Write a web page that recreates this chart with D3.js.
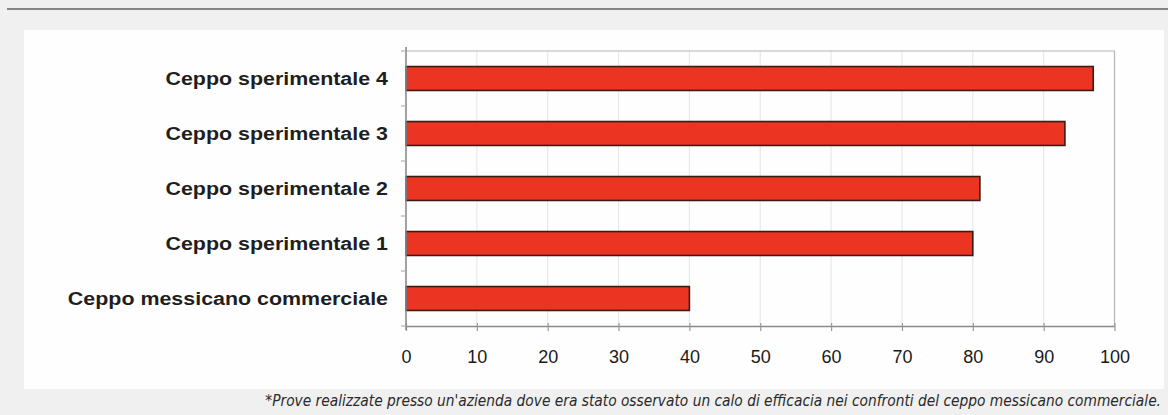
<!DOCTYPE html>
<html>
<head>
<meta charset="utf-8">
<script src="https://cdn.jsdelivr.net/npm/d3@7"></script>
<style>
  html, body { margin: 0; padding: 0; background: #f0f0f0; }
  svg { display: block; }
</style>
</head>
<body>
<svg id="chart" width="1168" height="415"></svg>
<script>
const categories = [
  "Ceppo sperimentale 4",
  "Ceppo sperimentale 3",
  "Ceppo sperimentale 2",
  "Ceppo sperimentale 1",
  "Ceppo messicano commerciale"
];
const values = [97, 93, 81, 80, 40];
const xTicks = [0, 10, 20, 30, 40, 50, 60, 70, 80, 90, 100];
const footnote = "*Prove realizzate presso un'azienda dove era stato osservato un calo di efficacia nei confronti del ceppo messicano commerciale.";

const svg = d3.select("#chart");
const W = 1168, H = 415;

svg.append("rect").attr("width", W).attr("height", H).attr("fill", "#f0f0f0");
// top rule
svg.append("rect").attr("x", 7).attr("y", 8).attr("width", W - 7).attr("height", 2).attr("fill", "#858585");
// white panel
svg.append("rect").attr("x", 24).attr("y", 30).attr("width", 1140).attr("height", 359).attr("fill", "#fefefe");

const plot = { left: 406, right: 1114.5, top: 51, bottom: 326 };

const x = d3.scaleLinear().domain([0, 100]).range([plot.left, plot.right]);
const y = d3.scaleBand().domain(categories).range([plot.top, plot.bottom]).paddingInner(0.565).paddingOuter(0.2825);

// gridlines
svg.append("g").selectAll("line").data(xTicks.filter(d => d > 0 && d < 100)).join("line")
  .attr("x1", d => x(d)).attr("x2", d => x(d))
  .attr("y1", plot.top).attr("y2", plot.bottom)
  .attr("stroke", "#e6e8ec").attr("stroke-width", 1.2);

// plot border top & right
svg.append("path")
  .attr("d", `M${plot.left},${plot.top}H${plot.right}V${plot.bottom}`)
  .attr("fill", "none").attr("stroke", "#b4b4b4").attr("stroke-width", 1.2);

// bars
svg.append("g").selectAll("rect").data(categories).join("rect")
  .attr("x", x(0))
  .attr("y", d => y(d))
  .attr("width", (d, i) => x(values[i]) - x(0))
  .attr("height", y.bandwidth())
  .attr("fill", "#ec3423")
  .attr("stroke", "#3b1c14")
  .attr("stroke-width", 1.6);

// x axis
const xAxis = d3.axisBottom(x).tickValues(xTicks).tickSize(5).tickPadding(19).tickSizeOuter(0);
const gx = svg.append("g").attr("transform", `translate(0,${plot.bottom})`).call(xAxis);
gx.select(".domain").attr("stroke", "#8a8a8a").attr("stroke-width", 1.5);
gx.selectAll(".tick line").attr("stroke", "#9a9a9a").attr("y1", -3).attr("stroke-width", 1.2);
gx.selectAll(".tick text")
  .attr("font-family", "Liberation Sans, Arial, sans-serif")
  .attr("font-size", "18px").attr("fill", "#1a1a1a");

// y axis line and boundary ticks
svg.append("line")
  .attr("x1", plot.left).attr("x2", plot.left)
  .attr("y1", plot.top - 4).attr("y2", plot.bottom + 4)
  .attr("stroke", "#8a8a8a").attr("stroke-width", 1.6);
svg.append("g").selectAll("line").data(d3.range(categories.length + 1)).join("line")
  .attr("x1", plot.left - 5).attr("x2", plot.left)
  .attr("y1", i => plot.top + i * (plot.bottom - plot.top) / categories.length)
  .attr("y2", i => plot.top + i * (plot.bottom - plot.top) / categories.length)
  .attr("stroke", "#b0b0b0").attr("stroke-width", 1.2);

// category labels
svg.append("g").selectAll("text").data(categories).join("text")
  .attr("transform", d => `translate(${plot.left - 18},${y(d) + y.bandwidth() / 2 + 6.5}) scale(1.14,1)`)
  .attr("text-anchor", "end")
  .attr("font-family", "Liberation Sans, Arial, sans-serif")
  .attr("font-weight", "bold")
  .attr("font-size", "18.8px")
  .attr("fill", "#1e1e1e")
  .text(d => d);

// footnote (scaled horizontally to the reference width)
const fn = svg.append("text")
  .attr("x", 0).attr("y", 0)
  .attr("text-anchor", "end")
  .attr("font-family", "DejaVu Sans, sans-serif")
  .attr("font-stretch", "condensed")
  .style("font-stretch", "condensed")
  .attr("font-style", "italic")
  .attr("font-size", "16.5px")
  .attr("fill", "#2a2a2a")
  .text(footnote);
const natural = fn.node().getComputedTextLength();
fn.attr("transform", `translate(1161,406) scale(${897 / natural},1)`);
</script>
</body>
</html>
